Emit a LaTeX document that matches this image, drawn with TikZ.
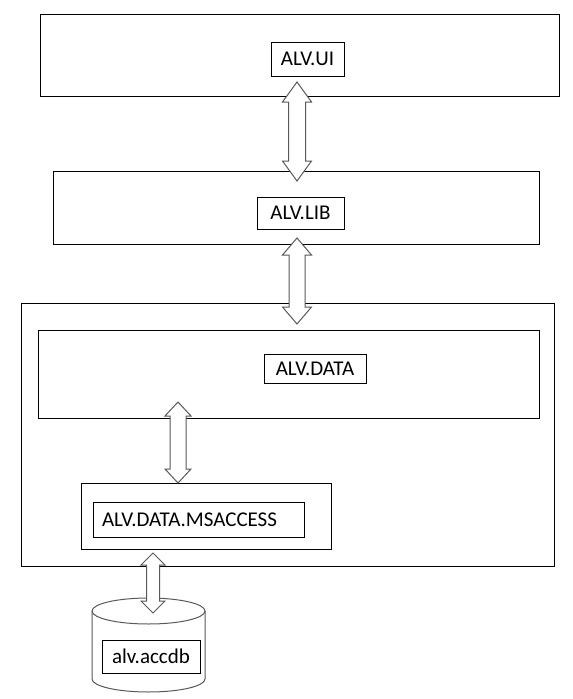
\documentclass[tikz,border=0pt]{standalone}
\usepackage{fontspec}
\setmainfont{Carlito}
\usetikzlibrary{calc}
\tikzset{
  layer/.style={draw, line width=1pt, inner sep=0pt},
  namebox/.style={draw, line width=1pt, inner sep=0pt, font=\fontsize{21}{25}\selectfont},
  dbline/.style={draw=black!65, line width=1pt},
  dblarrow/.style n args={3}{draw=black!65, fill=white, line width=1pt, line join=miter,
    to path={let \p1=(\tikztostart), \p2=(\tikztotarget) in
      (\x1,\y1) -- (\x1+#1pt,\y1-#2pt) -- (\x1+#3pt,\y1-#2pt) -- (\x1+#3pt,\y2+#2pt)
      -- (\x1+#1pt,\y2+#2pt) -- (\x1,\y2) -- (\x1-#1pt,\y2+#2pt) -- (\x1-#3pt,\y2+#2pt)
      -- (\x1-#3pt,\y1-#2pt) -- (\x1-#1pt,\y1-#2pt) -- cycle}}
}
\begin{document}
\begin{tikzpicture}[x=1pt, y=-1pt]
        \useasboundingbox (0,0) rectangle (573,699);

        \node[layer, minimum width=519pt, minimum height=82pt] (uilayer) at (299.5,55) {};
        \node[namebox, minimum width=73pt, minimum height=34pt] (ui) at (307.5,59) {ALV.UI};

        \node[layer, minimum width=486pt, minimum height=73pt] (liblayer) at (296,207.5) {};
        \node[namebox, minimum width=87pt, minimum height=32pt] (lib) at (300.5,213) {ALV.LIB};

        \node[layer, minimum width=533pt, minimum height=263pt] (datalayer) at (287.5,434.5) {};
        \node[layer, minimum width=501pt, minimum height=88pt] (datapanel) at (288.5,374) {};
        \node[namebox, minimum width=102pt, minimum height=29pt] (data) at (315,368.5) {ALV.DATA};

        \node[layer, minimum width=250pt, minimum height=66pt] (msalayer) at (206,516) {};
        \node[namebox, text width=193pt, inner xsep=9pt, minimum height=35pt, align=left] (msa) at (198.5,519.5) {ALV.DATA.MSACCESS};

        \draw[dbline] (92,611) -- (92,679) arc[start angle=180, end angle=360, x radius=56.5pt, y radius=13pt] -- (205,611);
        \draw[dbline] (148.5,611) ellipse [x radius=56.5pt, y radius=13pt];
        \node[namebox, minimum width=98pt, minimum height=33pt] (db) at (151,656.5) {alv.accdb};

        \coordinate (ui-end) at (297,82);
        \coordinate (lib-top) at (297,181);
        \coordinate (lib-end) at (297,238);
        \coordinate (data-top) at (297,324);
        \coordinate (data-end) at (178,402);
        \coordinate (msa-top) at (178,483);
        \coordinate (msa-end) at (153,553);
        \coordinate (db-top) at (153,613);

        \draw[dblarrow={14.5}{20}{8.5}] (ui-end) to (lib-top);
        \draw[dblarrow={14.5}{17}{8}] (lib-end) to (data-top);
        \draw[dblarrow={13}{14}{8}] (data-end) to (msa-top);
        \draw[dblarrow={12}{12}{6.5}] (msa-end) to (db-top);

    \end{tikzpicture}
\end{document}
